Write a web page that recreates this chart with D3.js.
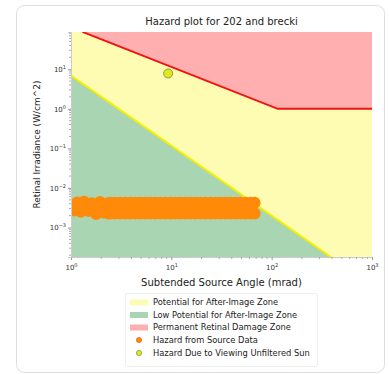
<!DOCTYPE html>
<html><head><meta charset="utf-8">
<script src="https://cdn.jsdelivr.net/npm/d3@7"></script>
<style>body{margin:0;background:#fff}svg{display:block}</style>
</head><body>
<svg id="c" width="389" height="374"></svg>
<script>
const title = "Hazard plot for 202 and brecki";
const xLabel = "Subtended Source Angle (mrad)";
const yLabel = "Retinal Irradiance (W/cm^2)";
const xTicks = [1, 10, 100, 1000];
const yTicks = [10, 1, 0.1, 0.01, 0.001];
// zone boundaries
const redX = [1.3, 115, 1000];
const redY = [88, 1, 1];
const yellowX = [1, 400];
const yellowY = [6.9, 1.72e-4];
// source data (mrad, W/cm^2)
const srcX = [1.05,1.08,1.15,1.20,1.25,1.35,1.42,1.50,1.62,1.68,1.78,1.85,1.95,2.10,2.20,2.34,2.34,
  2.45,2.45,2.75,2.75,3.09,3.09,3.47,3.47,3.89,3.89,4.37,4.37,4.90,4.90,5.50,5.50,6.17,6.17,6.92,6.92,
  7.76,7.76,8.71,8.71,9.77,9.77,10.96,10.96,12.3,12.3,13.8,13.8,15.5,15.5,17.4,17.4,19.5,19.5,21.9,21.9,
  24.5,24.5,27.5,27.5,30.9,30.9,34.7,34.7,38.9,38.9,43.7,43.7,49.0,49.0,55.0,55.0,61.7,61.7,67.6,67.6];
const srcY = [3.2e-3,2.7e-3,4.3e-3,3.4e-3,2.5e-3,4.5e-3,3.5e-3,2.6e-3,4.1e-3,3.0e-3,2.2e-3,3.8e-3,4.4e-3,2.4e-3,3.3e-3,2.25e-3,4.1e-3,
  4.2e-3,2.25e-3,4.2e-3,2.25e-3,4.2e-3,2.25e-3,4.2e-3,2.25e-3,4.2e-3,2.25e-3,4.2e-3,2.25e-3,4.2e-3,2.25e-3,4.2e-3,2.25e-3,4.2e-3,2.25e-3,4.2e-3,2.25e-3,
  4.2e-3,2.25e-3,4.2e-3,2.25e-3,4.2e-3,2.25e-3,4.2e-3,2.25e-3,4.2e-3,2.25e-3,4.2e-3,2.25e-3,4.2e-3,2.25e-3,4.2e-3,2.25e-3,4.2e-3,2.25e-3,4.2e-3,2.25e-3,
  4.2e-3,2.25e-3,4.2e-3,2.25e-3,4.2e-3,2.25e-3,4.2e-3,2.25e-3,4.2e-3,2.25e-3,4.2e-3,2.25e-3,4.2e-3,2.25e-3,4.2e-3,2.25e-3,4.2e-3,2.25e-3,4.2e-3,2.25e-3];
const sunX = [9.3];
const sunY = [7.8];
const legendLabels = ["Potential for After-Image Zone","Low Potential for After-Image Zone","Permanent Retinal Damage Zone","Hazard from Source Data","Hazard Due to Viewing Unfiltered Sun"];

const colYellowZone = "#fefcb2", colGreenZone = "#a9d5b3", colRedZone = "#ffafaf";
const svg = d3.select("#c");
const font = "DejaVu Sans, sans-serif";
svg.append("rect").attr("x",16.5).attr("y",5.5).attr("width",368).attr("height",367).attr("rx",8)
  .attr("fill","#fff").attr("stroke","#ddd");

const L=71, R=372, T=32, B=257;
const x = d3.scaleLog().domain([1,1000]).range([L,R]);
const y = d3.scaleLog().domain([1.8e-4, 87]).range([B,T]);
const yMin = y.domain()[0], yMax = y.domain()[1];

const g = svg.append("g");
svg.append("clipPath").attr("id","clip").append("rect").attr("x",L).attr("y",T).attr("width",R-L).attr("height",B-T);
const plot = g.append("g").attr("clip-path","url(#clip)");

plot.append("rect").attr("x",L).attr("y",T).attr("width",R-L).attr("height",B-T).attr("fill",colYellowZone);
plot.append("path").datum(redX.map((v,i)=>[v,redY[i]]))
  .attr("d", d3.area().x(d=>x(d[0])).y0(y(yMax*2)).y1(d=>y(d[1])))
  .attr("fill", colRedZone);
plot.append("path").datum(yellowX.map((v,i)=>[v,yellowY[i]]))
  .attr("d", d3.area().x(d=>x(d[0])).y0(y(yMin/2)).y1(d=>y(d[1])))
  .attr("fill", colGreenZone);
plot.append("path").datum(redX.map((v,i)=>[v,redY[i]]))
  .attr("d", d3.line().x(d=>x(d[0])).y(d=>y(d[1])))
  .attr("fill","none").attr("stroke","#f21010").attr("stroke-width",1.8);
plot.append("path").datum(yellowX.map((v,i)=>[v,yellowY[i]]))
  .attr("d", d3.line().x(d=>x(d[0])).y(d=>y(d[1])))
  .attr("fill","none").attr("stroke","#f4f000").attr("stroke-width",2);

plot.append("g").selectAll("circle").data(srcX.map((v,i)=>[v,srcY[i]])).join("circle")
  .attr("cx",d=>x(d[0])).attr("cy",d=>y(d[1])).attr("r",6).attr("fill","#ff8a0a");
plot.append("g").selectAll("circle").data(sunX.map((v,i)=>[v,sunY[i]])).join("circle")
  .attr("cx",d=>x(d[0])).attr("cy",d=>y(d[1])).attr("r",4.5).attr("fill","#e2e81a").attr("stroke","#8a9a40").attr("stroke-width",1);

function sup(sel){
  sel.each(function(d){
    const t=d3.select(this); const e=Math.round(Math.log10(d));
    t.text(null); t.append("tspan").text("10");
    t.append("tspan").attr("dy","-0.6em").attr("font-size","5px").text(e<0?"\u2212"+(-e):e);
  });
}
const xAxis = g.append("g").attr("transform",`translate(0,${B})`)
  .call(d3.axisBottom(x).tickValues(xTicks).tickSize(3).tickFormat(""));
xAxis.select(".domain").attr("stroke","#ccc");
xAxis.selectAll(".tick line").attr("stroke","#999");
xAxis.selectAll(".tick").append("text").attr("y",13).attr("fill","#333").attr("text-anchor","middle")
  .attr("font-family",font).attr("font-size","7px").call(sup);
const xMinor=[]; for(let e=0;e<3;e++) for(let k=2;k<10;k++) xMinor.push(k*Math.pow(10,e));
g.append("g").selectAll("line").data(xMinor).join("line").attr("x1",d=>x(d)).attr("x2",d=>x(d)).attr("y1",B).attr("y2",B+2).attr("stroke","#aaa");

const yAxis = g.append("g").attr("transform",`translate(${L},0)`)
  .call(d3.axisLeft(y).tickValues(yTicks).tickSize(3).tickFormat(""));
yAxis.select(".domain").attr("stroke","#ccc");
yAxis.selectAll(".tick line").attr("stroke","#999");
yAxis.selectAll(".tick").append("text").attr("x",-5).attr("dy","0.35em").attr("fill","#333").attr("text-anchor","end")
  .attr("font-family",font).attr("font-size","7px").call(sup);
const yMinor=[]; for(let e=-4;e<2;e++) for(let k=2;k<10;k++){const v=k*Math.pow(10,e); if(v>yMin&&v<yMax) yMinor.push(v);}
g.append("g").selectAll("line").data(yMinor).join("line").attr("y1",d=>y(d)).attr("y2",d=>y(d)).attr("x1",L).attr("x2",L-2).attr("stroke","#aaa");

svg.append("text").attr("x",(L+R)/2).attr("y",25).attr("text-anchor","middle").attr("font-family",font).attr("font-size","10px").attr("fill","#222").text(title);
svg.append("text").attr("x",(L+R)/2).attr("y",286).attr("text-anchor","middle").attr("font-family",font).attr("font-size","10px").attr("fill","#222").text(xLabel);
svg.append("text").attr("transform",`translate(40,${(T+B)/2}) rotate(-90)`).attr("text-anchor","middle").attr("font-family",font).attr("font-size","9px").attr("fill","#222").text(yLabel);

const lg = svg.append("g");
lg.append("rect").attr("x",125.5).attr("y",293.5).attr("width",192).attr("height",73).attr("rx",2).attr("fill","#fff").attr("stroke","#eee");
const rows = [302.5,315,327.5,340,353];
const patchCols=[colYellowZone,colGreenZone,colRedZone];
legendLabels.forEach((lab,i)=>{
  const ry=rows[i];
  if(i<3) lg.append("rect").attr("x",130).attr("y",ry-3).attr("width",18).attr("height",6).attr("fill",patchCols[i]);
  else if(i===3) lg.append("circle").attr("cx",139).attr("cy",ry).attr("r",2.6).attr("fill","#ff8a0a").attr("stroke","#f04a00").attr("stroke-width",0.6);
  else lg.append("circle").attr("cx",139).attr("cy",ry).attr("r",2.6).attr("fill","#e2e81a").attr("stroke","#8a9a40").attr("stroke-width",0.8);
  lg.append("text").attr("x",153).attr("y",ry).attr("dy","0.35em").attr("font-family",font).attr("font-size","8.3px").attr("fill","#222").text(lab);
});
</script>
</body></html>
